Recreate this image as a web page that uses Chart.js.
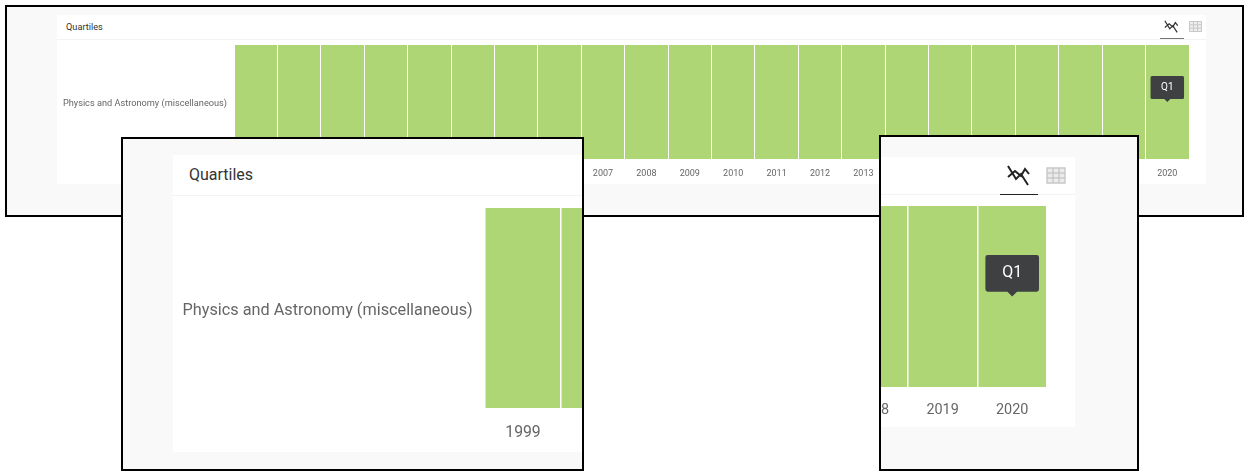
<!DOCTYPE html>
<html>
<head>
<meta charset="utf-8">
<title>Quartiles</title>
<script src="https://cdn.jsdelivr.net/npm/chart.js@4"></script>
<style>
  html, body { margin: 0; padding: 0; background: #fff; width: 1249px; height: 471px; overflow: hidden; font-family: Roboto, sans-serif; }
  .frame { position: absolute; box-sizing: border-box; border: 2px solid #000; background: #f9f9f9; overflow: hidden; }
  .card { position: absolute; background: #fff; }
  .card h4 { position: absolute; margin: 0; font-weight: 400; color: #333; white-space: nowrap; }
  .card .rule { position: absolute; left: 0; right: 0; height: 1px; background: #f3f3f3; }
  .card canvas { position: absolute; left: 0; }
  .card svg { position: absolute; }
  #card1 { filter: blur(0.45px); }
</style>
</head>
<body>

<div class="frame" style="left:5px;top:5px;width:1239px;height:212px">
  <div class="card" id="card1" style="left:50px;top:8px;width:1149px;height:169px">
    <h4 style="left:9px;top:6px;font-size:9.2px;line-height:11px">Quartiles</h4>
    <div class="rule" style="top:24px"></div>
    <svg style="left:1106px;top:5px" width="16" height="15" viewBox="0 0 26 24"><path d="M3 12 L10 6 L16 11 L20 4 L24 9 M3 1 L11 14 L16 9 L23 20" fill="none" stroke="#333" stroke-width="2"/></svg>
    <div style="position:absolute;left:1103px;top:23px;width:24px;height:1px;background:#777"></div>
    <svg style="left:1132px;top:6px" width="13" height="11" viewBox="0 0 13 11"><path d="M.5 .5H12.5V10.5H.5Z M.5 3.8H12.5 M.5 7.2H12.5 M4.5 .5V10.5 M8.5 .5V10.5" fill="#eee" stroke="#c8c8c8"/></svg>
    <canvas id="chart1" width="1149" height="144"></canvas>
  </div>
</div>

<div class="frame" style="left:121px;top:137px;width:463px;height:334px">
  <div class="card" id="card2" style="left:50px;top:16px;width:2011px;height:297px">
    <h4 style="left:16px;top:10px;font-size:16px;line-height:20px">Quartiles</h4>
    <div class="rule" style="top:40px"></div>
    <canvas id="chart2" width="2011" height="256"></canvas>
  </div>
</div>

<div class="frame" style="left:879px;top:135px;width:260px;height:336px">
  <div class="card" id="card3" style="left:-1644px;top:20px;width:1838px;height:270px">
    <div class="rule" style="top:37px"></div>
    <svg style="left:1768px;top:8px" width="26" height="24" viewBox="0 0 26 24"><path d="M3 12 L10 6 L16 11 L20 4 L24 9 M3 1 L11 14 L16 9 L23 20" fill="none" stroke="#222" stroke-width="2"/></svg>
    <div style="position:absolute;left:1763px;top:37px;width:38px;height:1px;background:#222"></div>
    <svg style="left:1809px;top:10px" width="20" height="17" viewBox="0 0 20 17"><path d="M1 1H19V16H1Z M1 6H19 M1 11H19 M7 1V16 M13 1V16" fill="#ececec" stroke="#c8c8c8" stroke-width="1.4"/></svg>
    <canvas id="chart3" width="1838" height="232"></canvas>
  </div>
</div>

<script>
var years = ['1999','2000','2001','2002','2003','2004','2005','2006','2007','2008','2009',
             '2010','2011','2012','2013','2014','2015','2016','2017','2018','2019','2020'];
var subjects = ['Physics and Astronomy (miscellaneous)'];
var quartiles = ['Q1','Q1','Q1','Q1','Q1','Q1','Q1','Q1','Q1','Q1','Q1',
                 'Q1','Q1','Q1','Q1','Q1','Q1','Q1','Q1','Q1','Q1','Q1'];
var cellHeights = [1,1,1,1,1,1,1,1,1,1,1,1,1,1,1,1,1,1,1,1,1,1];
var quartileColours = { Q1: 'rgb(174,214,117)' };

// keeps the tooltip in the middle of its cell, like the site does
Chart.Tooltip.positioners.cellCentre = function (items) {
  if (!items.length) return false;
  var el = items[0].element;
  return { x: el.x, y: (el.y + el.base) / 2 };
};

function drawPanel(id, o) {
  var canvas = document.getElementById(id);
  canvas.style.top = o.top + 'px';
  var k = o.k;

  var chart = new Chart(canvas.getContext('2d'), {
    type: 'bar',
    data: {
      labels: years,
      datasets: [{
        data: cellHeights,
        backgroundColor: quartiles.map(function (q) { return quartileColours[q]; }),
        barPercentage: 1,
        categoryPercentage: 1
      }]
    },
    options: {
      responsive: false,
      animation: false,
      events: [],
      layout: { padding: { top: o.plotTop, right: o.plotRight, left: 0, bottom: 0 } },
      plugins: {
        legend: { display: false },
        tooltip: {
          enabled: true,
          position: 'cellCentre',
          xAlign: 'center',
          yAlign: 'bottom',
          displayColors: false,
          backgroundColor: '#3f4042',
          bodyColor: '#fff',
          bodyFont: { family: 'Roboto', size: 10 * k },
          padding: { x: 10.5 * k, y: 5.5 * k },
          cornerRadius: 1.5 * k,
          caretSize: 3 * k,
          caretPadding: 0,
          callbacks: {
            title: function () { return ''; },
            label: function (c) { return quartiles[c.dataIndex]; }
          }
        }
      },
      scales: {
        x: {
          offset: true,
          afterFit: function (s) { s.height = o.axisHeight; },
          grid: { color: '#fff', lineWidth: o.gap, z: 1, drawTicks: false, offset: true },
          border: { display: false },
          ticks: {
            autoSkip: false, maxRotation: 0, color: '#666',
            padding: o.tickGap,
            font: { family: 'Roboto', size: 9 * k }
          }
        },
        y: {
          min: 0,
          max: 1,
          afterFit: function (s) {
            s.width = o.plotLeft;
            s.paddingTop = 0;
            s.paddingBottom = 0;
          },
          // the label sits a touch under the middle of the cell
          afterBuildTicks: function (s) { s.ticks = [{ value: 0.483 }]; },
          grid: { display: false, drawTicks: false },
          border: { display: false },
          ticks: {
            color: '#666',
            padding: 7 * k,
            font: { family: 'Roboto', size: o.labelSize },
            callback: function () { return subjects[0]; }
          }
        }
      }
    }
  });

  chart.tooltip.setActiveElements([{ datasetIndex: 0, index: years.length - 1 }], { x: 0, y: 0 });
  chart.update();
}

drawPanel('chart1', { k: 1, top: 25, plotLeft: 177, plotTop: 5, plotRight: 17, axisHeight: 25, gap: 1, tickGap: 9, labelSize: 9.2 });
drawPanel('chart2', { k: 1.75, top: 41, plotLeft: 312, plotTop: 12, plotRight: 27, axisHeight: 44, gap: 1.5, tickGap: 16, labelSize: 16.25 });
drawPanel('chart3', { k: 1.6, top: 38, plotLeft: 279, plotTop: 11, plotRight: 28, axisHeight: 40, gap: 1.5, tickGap: 15, labelSize: 15 });
</script>
</body>
</html>
